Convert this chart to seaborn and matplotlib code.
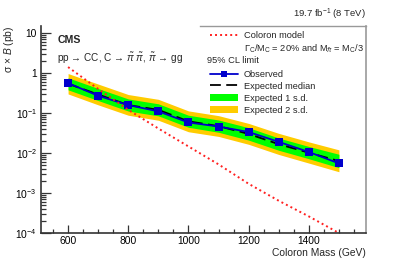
import numpy as np
import pandas as pd
import seaborn as sns
import matplotlib.pyplot as plt
from matplotlib.lines import Line2D
from matplotlib.patches import Patch
from matplotlib.ticker import FixedLocator, FuncFormatter, LogLocator, NullFormatter

sns.set_style("ticks")
plt.rcParams["font.family"] = ["Liberation Sans", "DejaVu Sans"]
plt.rcParams["mathtext.fontset"] = "custom"
plt.rcParams["mathtext.rm"] = "Liberation Sans"
plt.rcParams["mathtext.it"] = "Liberation Sans:italic"
plt.rcParams["mathtext.bf"] = "Liberation Sans:bold"

# Dados (GeV, pb)
mass = [600, 700, 800, 900, 1000, 1100, 1200, 1300, 1400, 1500]
observed = [0.56, 0.27, 0.158, 0.11, 0.058, 0.046, 0.0335, 0.019, 0.0106, 0.0055]
expected = [0.54, 0.29, 0.158, 0.12, 0.062, 0.047, 0.030, 0.0166, 0.0102, 0.0063]
exp_1s_lo = [0.38, 0.205, 0.112, 0.085, 0.044, 0.033, 0.021, 0.0117, 0.0072, 0.0043]
exp_1s_hi = [0.76, 0.41, 0.225, 0.17, 0.088, 0.067, 0.043, 0.0237, 0.0146, 0.0093]
exp_2s_lo = [0.30, 0.16, 0.088, 0.066, 0.034, 0.026, 0.0165, 0.0092, 0.0056, 0.0034]
exp_2s_hi = [0.97, 0.53, 0.29, 0.22, 0.113, 0.086, 0.055, 0.031, 0.019, 0.0120]
model = [1.41, 0.40, 0.12, 0.041, 0.0146, 0.0052, 0.0017, 6.4e-4, 2.6e-4, 1.0e-4]

df = pd.DataFrame({"mass": mass, "observed": observed, "expected": expected, "model": model})

fig = plt.figure(figsize=(4.07, 2.60), dpi=100)
ax = fig.add_axes([41 / 407, 27 / 260, 325 / 407, 207 / 260])

green = "#00ff00"
yellow = "#ffcc00"
blue = "#0000cc"

ax.fill_between(mass, exp_2s_lo, exp_2s_hi, color=yellow, lw=0)
ax.fill_between(mass, exp_1s_lo, exp_1s_hi, color=green, lw=0)
sns.lineplot(data=df, x="mass", y="expected", ax=ax, color="black", lw=1.3,
             dashes=False, linestyle=(0, (6, 3)))
sns.lineplot(data=df, x="mass", y="observed", ax=ax, color=blue, lw=1.3,
             marker="s", markersize=5.5, markeredgewidth=0)
sns.lineplot(data=df, x="mass", y="model", ax=ax, color="#ff2020", lw=1.4,
             linestyle=(0, (1, 1.6)))

ax.set_yscale("log")
ax.set_xlim(510, 1590)
ax.set_ylim(1e-4, 15)

# Eixos estilo ROOT
ax.xaxis.set_major_locator(FixedLocator([600, 800, 1000, 1200, 1400]))
ax.xaxis.set_minor_locator(FixedLocator(np.arange(550, 1590, 50)))
ax.yaxis.set_major_locator(LogLocator(base=10, numticks=10))
ax.yaxis.set_minor_locator(LogLocator(base=10, subs=np.arange(2, 10), numticks=20))
ax.yaxis.set_minor_formatter(NullFormatter())


def ylab(v, pos):
    if v == 10:
        return "10"
    if v == 1:
        return "1"
    return r"$10^{%d}$" % round(np.log10(v))


ax.yaxis.set_major_formatter(FuncFormatter(ylab))
ax.tick_params(which="both", direction="in", colors="#333333", labelcolor="black",
               labelsize=7.4, top=False, right=False)
ax.tick_params(axis="x", which="major", length=6, width=0.9, pad=2.5)
ax.tick_params(axis="x", which="minor", length=3, width=0.9)
ax.tick_params(axis="y", which="major", length=7, width=0.9, pad=3)
ax.tick_params(axis="y", which="minor", length=3.5, width=0.9)

for s in ["left", "bottom"]:
    ax.spines[s].set_color("#333333")
    ax.spines[s].set_linewidth(1.2)
ax.spines["right"].set_color("#999999")
ax.spines["right"].set_linewidth(1.2)
ax.spines["top"].set_color("#999999")
ax.spines["top"].set_linewidth(1.0)
ax.spines["top"].set_bounds(1040, 1590)

ax.set_xlabel("Coloron Mass (GeV)", loc="right", fontsize=7.4, labelpad=1)
ax.set_ylabel(r"σ × $\it{B}$ (pb)", loc="top", fontsize=7.4)
ax.yaxis.set_label_coords((16 - 41) / 325, 1.0)

ax.text(0.05, 0.955, "CMS", transform=ax.transAxes, fontsize=7.6,
        fontweight="bold", va="top")
ax.text(0.05, 0.885, r"pp → CC, C → $\tilde{\pi}$ $\tilde{\pi}$, $\tilde{\pi}$ → gg",
        transform=ax.transAxes, fontsize=7.2, va="top")
fig.text(366 / 407, 1 - 14 / 260, r"19.7 fb$^{-1}$ (8 TeV)", ha="right",
         va="center", fontsize=6.8)

handles = [
    Line2D([], [], color="#ff2020", lw=1.4, linestyle=(0, (1, 1.6))),
    Line2D([], [], color="none"),
    Line2D([], [], color="none"),
    Line2D([], [], color=blue, lw=1.3, marker="s", markersize=5, markeredgewidth=0),
    Line2D([], [], color="black", lw=1.3, linestyle=(0, (6, 3))),
    Patch(color=green, lw=0),
    Patch(color=yellow, lw=0),
]
labels = [
    "Coloron model",
    r"Γ$_\mathrm{C}$/M$_\mathrm{C}$ = 20% and M$_{\tilde{\pi}}$ = M$_\mathrm{C}$/3",
    " ",
    "Observed",
    "Expected median",
    "Expected 1 s.d.",
    "Expected 2 s.d.",
]
leg = ax.legend(handles, labels, loc="upper left", bbox_to_anchor=(0.515, 0.985),
                frameon=False, fontsize=6.7, handlelength=3.0, handleheight=0.9,
                handletextpad=0.6, labelspacing=0.3, borderaxespad=0,
                borderpad=0.2)
ax.text((206.7 - 41) / 325, (233 - 60.7) / 207, "95% CL limit", transform=ax.transAxes,
        fontsize=6.7, va="center")

fig.savefig("out.png", dpi=100)
